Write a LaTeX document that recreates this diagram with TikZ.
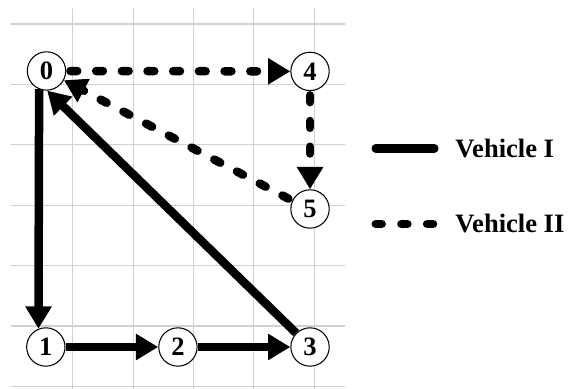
\documentclass[tikz,border=0pt]{standalone}
\usepackage{fontspec}
\setmainfont{Liberation Serif}
\usetikzlibrary{arrows.meta}

\tikzset{
  vertex/.style={circle, draw, line width=0.5pt, fill=white, inner sep=0pt,
                 minimum size=0.635cm, font=\bfseries\fontsize{12.5}{14}\selectfont},
  route/.style={line width=4pt, -{Triangle[length=10.5pt,width=11.8pt]}},
  vehone/.style={route},
  vehtwo/.style={route, line cap=round, dash pattern=on 3.2pt off 8.9pt,
                 shorten <=2pt},
  legtext/.style={anchor=west, inner sep=0pt, font=\bfseries\fontsize{12.5}{15}\selectfont},
  gridline/.style={black!18, line width=0.5pt}
}

\begin{document}
\begin{tikzpicture}
\useasboundingbox (-1.204,0.397) rectangle (8.200,-6.043);

\draw[gridline] (0.0,0.265) -- (0.0,-6.043);
\draw[gridline] (1.0,0.265) -- (1.0,-6.043);
\draw[gridline] (2.0,0.265) -- (2.0,-6.043);
\draw[gridline] (3.0,0.265) -- (3.0,-6.043);
\draw[gridline] (4.0,0.265) -- (4.0,-6.043);
\draw[gridline] (-1.02,0.0) -- (4.51,0.0);
\draw[gridline] (-1.02,-1.0) -- (4.51,-1.0);
\draw[gridline] (-1.02,-2.0) -- (4.51,-2.0);
\draw[gridline] (-1.02,-3.0) -- (4.51,-3.0);
\draw[gridline] (-1.02,-4.0) -- (4.51,-4.0);
\draw[gridline] (-1.02,-5.0) -- (4.51,-5.0);
\draw[gridline] (-1.02,-6.0) -- (4.51,-6.0);

\node[vertex] (n0) at (-0.434,-0.778) {0};
\node[vertex] (n1) at (-0.445,-5.348) {1};
\node[vertex] (n2) at (1.742,-5.348) {2};
\node[vertex] (n3) at (3.929,-5.348) {3};
\node[vertex] (n4) at (3.929,-0.785) {4};
\node[vertex] (n5) at (3.929,-3.063) {5};

% vehicle I
\draw[vehone] (n0.248) -- (n1.112);
\draw[vehone] (n1) -- (n2);
\draw[vehone] (n2) -- (n3);
\draw[vehone] (n3.135) -- (n0.272);

% vehicle II
\draw[vehtwo] (n0) -- (n4);
\draw[vehtwo] (n4) -- (n5);
\draw[vehtwo] (n5.155) -- (n0.-28);

% legend
\node[legtext] (legone) at (6.33,-2.058) {Vehicle I};
\node[legtext] (legtwo) at (6.33,-3.311) {Vehicle II};
\coordinate (legonea) at (5.017,-2.058);
\coordinate (legoneb) at (5.987,-2.058);
\coordinate (legtwoa) at (5.017,-3.311);
\coordinate (legtwob) at (5.987,-3.311);
\draw[line width=4pt, line cap=round] (legonea) -- (legoneb);
\draw[line width=4pt, line cap=round, dash pattern=on 2.8pt off 9.3pt] (legtwoa) -- (legtwob);
\end{tikzpicture}
\end{document}
